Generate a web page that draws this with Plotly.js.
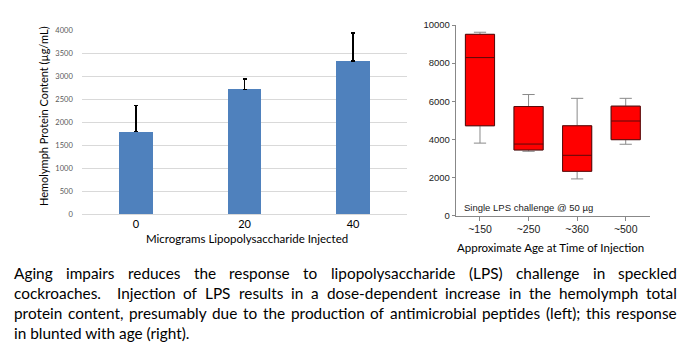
<!DOCTYPE html>
<html><head><meta charset="utf-8">
<script src="https://cdn.plot.ly/plotly-3.0.1.min.js"></script>
<style>html,body{margin:0;padding:0;background:#fff}#chart{width:688px;height:353px}</style>
</head><body><div id="chart"></div>
<script>
// ---- data ----
const doseCategories = ['0', '20', '40'];
const proteinMeans = [1790, 2710, 3330];
const proteinErrors = [565, 230, 610];

const ageCategories = ['~150', '~250', '~360', '~500'];
const boxLower  = [3800, 3370, 1920, 3740];
const boxQ1     = [4710, 3440, 2320, 3980];
const boxMedian = [8290, 3750, 3160, 4960];
const boxQ3     = [9510, 5720, 4710, 5740];
const boxUpper  = [9620, 6350, 6150, 6150];

const leftYTitle = 'Hemolymph Protein Content (µg/mL)';
const leftXTitle = 'Micrograms Lipopolysaccharide Injected';
const rightXTitle = 'Approximate Age at Time of Injection';
const rightNote = 'Single LPS challenge @ 50 µg';
const captionLines = [
  'Aging impairs reduces the response to lipopolysaccharide (LPS) challenge in speckled',
  'cockroaches.  Injection of LPS results in a dose-dependent increase in the hemolymph total',
  'protein content, presumably due to the production of antimicrobial peptides (left); this response',
  'in blunted with age (right).'
];
const captionJustify = [true, true, true, false];

// ---- layout helpers ----
const W = 688, H = 353;
const px = x => x / W;
const py = y => 1 - y / H;
const CAL = 'Lato, "Open Sans", sans-serif';
const ARIAL = '"Liberation Sans", Arial, sans-serif';

const traces = [
  {
    type: 'bar', x: doseCategories, y: proteinMeans, xaxis: 'x', yaxis: 'y',
    width: 0.31, marker: {color: '#4f81bd'},
    error_y: {type: 'data', symmetric: false, array: proteinErrors, arrayminus: [0, 0, 0],
              color: '#000', thickness: 1.5, width: 2},
    hoverinfo: 'skip'
  },
  // whiskers (gray)
  {
    type: 'box', x: ageCategories, xaxis: 'x2', yaxis: 'y2',
    q1: boxQ1, median: boxMedian, q3: boxQ3, lowerfence: boxLower, upperfence: boxUpper,
    width: 0.6, whiskerwidth: 0.42, fillcolor: '#ff0000',
    line: {color: '#8a8a8a', width: 1}, hoverinfo: 'skip'
  },
  // box body (dark outline)
  {
    type: 'box', x: ageCategories, xaxis: 'x2', yaxis: 'y2',
    q1: boxQ1, median: boxMedian, q3: boxQ3, lowerfence: boxQ1, upperfence: boxQ3,
    width: 0.6, whiskerwidth: 0, fillcolor: '#ff0000',
    line: {color: '#5a0a0a', width: 1}, hoverinfo: 'skip'
  }
];

const annotations = [
  {text: leftYTitle, xref: 'paper', yref: 'paper', x: px(43), y: py(116), textangle: -90,
   showarrow: false, xanchor: 'center', yanchor: 'middle', font: {family: CAL, size: 11, color: '#000'}},
  {text: leftXTitle, xref: 'paper', yref: 'paper', x: px(246.5), y: py(238),
   showarrow: false, xanchor: 'center', yanchor: 'middle', font: {family: CAL, size: 11.5, color: '#000'}},
  {text: rightXTitle, xref: 'paper', yref: 'paper', x: px(550.5), y: py(247),
   showarrow: false, xanchor: 'center', yanchor: 'middle', font: {family: CAL, size: 11.5, color: '#000'}},
  {text: rightNote, xref: 'paper', yref: 'paper', x: px(463), y: py(207.3),
   showarrow: false, xanchor: 'left', yanchor: 'middle', borderpad: 0, font: {family: ARIAL, size: 9.5, color: '#222'}}
];

// ---- justified caption ----
const cv = document.createElement('canvas').getContext('2d');
function measure(t, fs) { cv.font = fs + 'px Lato'; return cv.measureText(t).width; }
const capLeft = 13, capRight = 676, capWidth = capRight - capLeft;
const fs4 = 15 * 180 / measure(captionLines[3], 15);
const fs3 = 15 * (capWidth - 20) / measure(captionLines[2], 15);
const fs = Math.min(fs4, fs3);
const baselines = [278.5, 298.5, 318.5, 338.5];
captionLines.forEach((line, i) => {
  const yc = baselines[i] - 0.39 * fs;
  const common = {xref: 'paper', yref: 'paper', y: py(yc), showarrow: false, xanchor: 'left',
                  yanchor: 'middle', borderpad: 0,
                  font: {family: CAL, size: fs, color: '#000'}};
  if (!captionJustify[i]) {
    annotations.push(Object.assign({text: line, x: px(capLeft)}, common));
    return;
  }
  const parts = line.split(' ');
  const words = [];
  const gapsBefore = [];
  let pending = 0;
  parts.forEach(p => {
    if (p === '') { pending += 1; return; }
    gapsBefore.push(words.length ? pending + 1 : 0);
    words.push(p);
    pending = 0;
  });
  const widths = words.map(w => measure(w, fs));
  const total = widths.reduce((a, b) => a + b, 0);
  const gapUnits = gapsBefore.reduce((a, b) => a + b, 0);
  const gap = (capWidth - total) / gapUnits;
  let x = capLeft;
  words.forEach((w, k) => {
    x += gapsBefore[k] * gap;
    annotations.push(Object.assign({text: w, x: px(x)}, common));
    x += widths[k];
  });
});

const layout = {
  width: W, height: H, margin: {l: 0, r: 0, t: 0, b: 0},
  paper_bgcolor: '#fff', plot_bgcolor: 'rgba(0,0,0,0)', showlegend: false,
  boxmode: 'overlay', bargap: 0,
  xaxis: {domain: [px(81.75), px(407.25)], anchor: 'y', type: 'category', showgrid: false,
          showline: false, zeroline: false, ticks: '', tickfont: {family: CAL, size: 11, color: '#000'},
          ticklabelstandoff: 2, fixedrange: true},
  yaxis: {domain: [py(214), py(30)], anchor: 'x', range: [0, 4000], dtick: 500, tickformat: 'd',
          showgrid: true, gridcolor: '#d9d9d9', gridwidth: 1, zeroline: true, zerolinecolor: '#d9d9d9',
          zerolinewidth: 1, showline: false, ticks: '', tickfont: {family: CAL, size: 7.5, color: '#595959'},
          ticklabelstandoff: 8, fixedrange: true},
  xaxis2: {domain: [px(455.7), px(650)], anchor: 'y2', type: 'category', showgrid: false,
           showline: true, linecolor: '#888', linewidth: 1, ticks: 'outside', ticklen: 4, tickcolor: '#888',
           zeroline: false, tickfont: {family: ARIAL, size: 10.5, color: '#222'}, fixedrange: true},
  yaxis2: {domain: [py(215.5), py(25)], anchor: 'x2', range: [0, 10000], dtick: 2000, tickformat: 'd',
           showgrid: false, showline: true, linecolor: '#888', linewidth: 1, ticks: 'outside', ticklen: 3,
           tickcolor: '#888', zeroline: false, tickfont: {family: ARIAL, size: 9.5, color: '#222'},
           fixedrange: true},
  annotations: annotations
};

Plotly.newPlot('chart', traces, layout, {displayModeBar: false, staticPlot: true});
</script></body></html>
